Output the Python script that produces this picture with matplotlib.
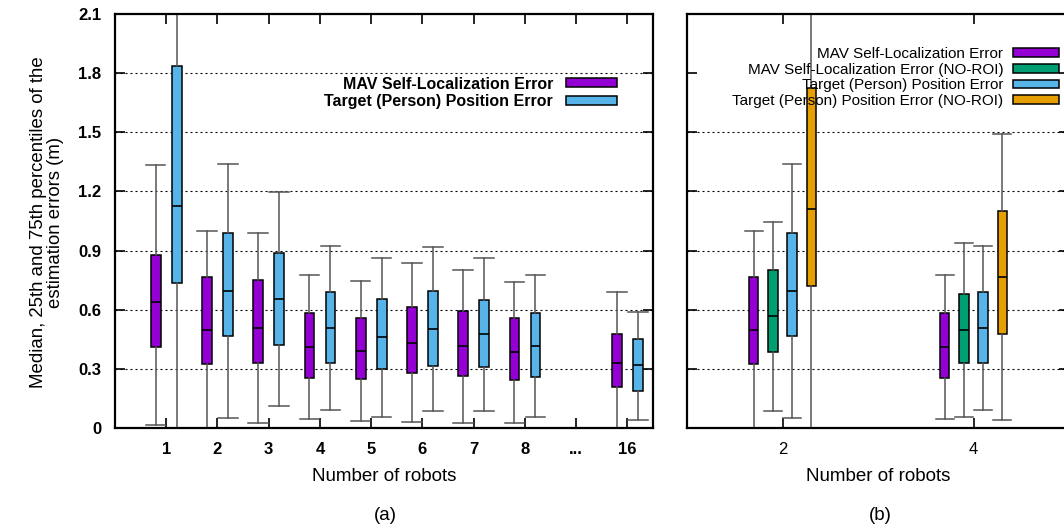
import matplotlib
matplotlib.use('Agg')
import matplotlib.pyplot as plt
from matplotlib.patches import Patch
import numpy as np

plt.rcParams['font.family'] = ['Liberation Sans', 'DejaVu Sans']

# ---------------- data, panel (a) ----------------
cats_a = ['1', '2', '3', '4', '5', '6', '7', '8', '...', '16']
robots_a = ['1', '2', '3', '4', '5', '6', '7', '8', '16']

mav_q1 = [0.411, 0.325, 0.330, 0.254, 0.249, 0.279, 0.264, 0.244, 0.208]
mav_med = [0.639, 0.497, 0.507, 0.411, 0.391, 0.431, 0.416, 0.386, 0.330]
mav_q3 = [0.878, 0.766, 0.751, 0.583, 0.558, 0.614, 0.594, 0.558, 0.477]
mav_lo = [0.015, 0.0, 0.025, 0.046, 0.036, 0.030, 0.025, 0.025, 0.0]
mav_hi = [1.334, 1.000, 0.989, 0.776, 0.746, 0.837, 0.802, 0.741, 0.690]

tgt_q1 = [0.735, 0.467, 0.421, 0.330, 0.299, 0.315, 0.309, 0.259, 0.188]
tgt_med = [1.126, 0.695, 0.654, 0.507, 0.462, 0.502, 0.477, 0.416, 0.320]
tgt_q3 = [1.837, 0.989, 0.888, 0.690, 0.654, 0.695, 0.649, 0.583, 0.452]
tgt_lo = [0.0, 0.050, 0.112, 0.091, 0.056, 0.086, 0.086, 0.056, 0.041]
tgt_hi = [2.400, 1.339, 1.197, 0.923, 0.863, 0.918, 0.863, 0.776, 0.589]

# ---------------- data, panel (b) ----------------
robots_b = ['2', '4']
mav_b_q1 = [0.325, 0.254]
mav_b_med = [0.497, 0.411]
mav_b_q3 = [0.766, 0.583]
mav_b_lo = [0.0, 0.046]
mav_b_hi = [1.000, 0.776]

mavnr_q1 = [0.386, 0.330]
mavnr_med = [0.568, 0.497]
mavnr_q3 = [0.802, 0.680]
mavnr_lo = [0.086, 0.056]
mavnr_hi = [1.045, 0.939]

tgt_b_q1 = [0.467, 0.330]
tgt_b_med = [0.695, 0.507]
tgt_b_q3 = [0.989, 0.690]
tgt_b_lo = [0.050, 0.091]
tgt_b_hi = [1.339, 0.923]

tgtnr_q1 = [0.720, 0.477]
tgtnr_med = [1.111, 0.766]
tgtnr_q3 = [1.725, 1.101]
tgtnr_lo = [0.0, 0.041]
tgtnr_hi = [2.400, 1.492]

yticks = [0, 0.3, 0.6, 0.9, 1.2, 1.5, 1.8, 2.1]
ytick_labels = ['0', '0.3', '0.6', '0.9', '1.2', '1.5', '1.8', '2.1']

PURPLE = '#9400D3'
GREEN = '#009E73'
BLUE = '#56B4E9'
ORANGE = '#E69F00'
WHISK = '#555555'


def stats(q1, med, q3, lo, hi):
    return [dict(q1=a, med=b, q3=c, whislo=d, whishi=e, fliers=[])
            for a, b, c, d, e in zip(q1, med, q3, lo, hi)]


def draw(ax, st, pos, w, color):
    ax.bxp(st, positions=pos, widths=w, capwidths=2 * w, patch_artist=True,
           showfliers=False, manage_ticks=False,
           boxprops=dict(facecolor=color, edgecolor='black', linewidth=1.1),
           medianprops=dict(color='black', linewidth=1.2),
           whiskerprops=dict(color=WHISK, linewidth=1.1),
           capprops=dict(color=WHISK, linewidth=1.1))


def style(ax):
    for s in ax.spines.values():
        s.set_linewidth(1.6)
    ax.tick_params(direction='in', length=7, width=1.2, top=True, right=True,
                   labelsize=12)
    ax.set_ylim(0, 2.1)
    ax.set_yticks(yticks)
    ax.set_axisbelow(True)
    ax.yaxis.grid(True, color='black', linestyle=(0, (1.8, 2.7)), linewidth=0.8)
    for i, t in enumerate(ax.yaxis.get_major_ticks()):
        if i in (0, len(yticks) - 1):
            t.gridline.set_visible(False)


W, H = 1064, 527
fig = plt.figure(figsize=(W / 100, H / 100), dpi=100)

# ---------------- panel (a) ----------------
ax1 = fig.add_axes([115 / W, 1 - 428 / H, (653 - 115) / W, (428 - 14) / H])
pos_a = np.array([cats_a.index(r) + 1 for r in robots_a], dtype=float)
draw(ax1, stats(mav_q1, mav_med, mav_q3, mav_lo, mav_hi), pos_a - 0.205, 0.19, PURPLE)
draw(ax1, stats(tgt_q1, tgt_med, tgt_q3, tgt_lo, tgt_hi), pos_a + 0.205, 0.19, BLUE)
ax1.set_xlim(0, len(cats_a) + 0.5)
ax1.set_xticks(np.arange(1, len(cats_a) + 1))
ax1.set_xticklabels(cats_a)
style(ax1)
ax1.set_yticklabels(ytick_labels)
ax1.tick_params(axis='y', pad=10)
ax1.tick_params(axis='x', pad=10)
for lab in ax1.get_xticklabels() + ax1.get_yticklabels():
    lab.set_fontweight('bold')

ax1.legend(handles=[Patch(facecolor=PURPLE, edgecolor='black', linewidth=1.1),
                    Patch(facecolor=BLUE, edgecolor='black', linewidth=1.1)],
           labels=['MAV Self-Localization Error', 'Target (Person) Position Error'],
           loc='upper right', bbox_to_anchor=(0.933, 0.849), frameon=False,
           borderpad=0, borderaxespad=0, markerfirst=False,
           handlelength=3.2, handleheight=0.5, handletextpad=0.8,
           labelspacing=0.14, prop=dict(weight='bold', size=11.5))

ax1.set_xlabel('Number of robots', fontsize=13.5, labelpad=8)
fig.text(47 / W, 1 - 222 / H,
         'Median, 25th and 75th percentiles of the\nestimation errors (m)',
         rotation=90, ha='center', va='center', multialignment='center', fontsize=13.4,
         linespacing=1.0)

# ---------------- panel (b) ----------------
ax2 = fig.add_axes([687 / W, 1 - 428 / H, (1069 - 687) / W, (428 - 14) / H])
pos_b = np.array([int(r) for r in robots_b], dtype=float)
draw(ax2, stats(mav_b_q1, mav_b_med, mav_b_q3, mav_b_lo, mav_b_hi), pos_b - 0.3, 0.097, PURPLE)
draw(ax2, stats(mavnr_q1, mavnr_med, mavnr_q3, mavnr_lo, mavnr_hi), pos_b - 0.1, 0.097, GREEN)
draw(ax2, stats(tgt_b_q1, tgt_b_med, tgt_b_q3, tgt_b_lo, tgt_b_hi), pos_b + 0.1, 0.097, BLUE)
draw(ax2, stats(tgtnr_q1, tgtnr_med, tgtnr_q3, tgtnr_lo, tgtnr_hi), pos_b + 0.3, 0.097, ORANGE)
ax2.set_xlim(1, 5)
ax2.set_xticks(pos_b)
ax2.set_xticklabels(robots_b)
style(ax2)
ax2.tick_params(axis='y', labelleft=False)
ax2.tick_params(axis='x', pad=10)
ax2.yaxis.get_major_ticks()[6].gridline.set_visible(False)

ax2.legend(handles=[Patch(facecolor=c, edgecolor='black', linewidth=1.1)
                    for c in (PURPLE, GREEN, BLUE, ORANGE)],
           labels=['MAV Self-Localization Error', 'MAV Self-Localization Error (NO-ROI)',
                   'Target (Person) Position Error', 'Target (Person) Position Error (NO-ROI)'],
           loc='upper right', bbox_to_anchor=(0.974, 0.920), frameon=False,
           borderpad=0, borderaxespad=0, markerfirst=False,
           handlelength=3.0, handleheight=0.5, handletextpad=0.65,
           labelspacing=0.11, prop=dict(size=11))
ax2.set_xlabel('Number of robots', fontsize=13.5, labelpad=8)

fig.text(385 / W, 1 - 515 / H, '(a)', ha='center', va='center', fontsize=13.5)
fig.text(880 / W, 1 - 515 / H, '(b)', ha='center', va='center', fontsize=13.5)

fig.savefig('out.png', dpi=100)
